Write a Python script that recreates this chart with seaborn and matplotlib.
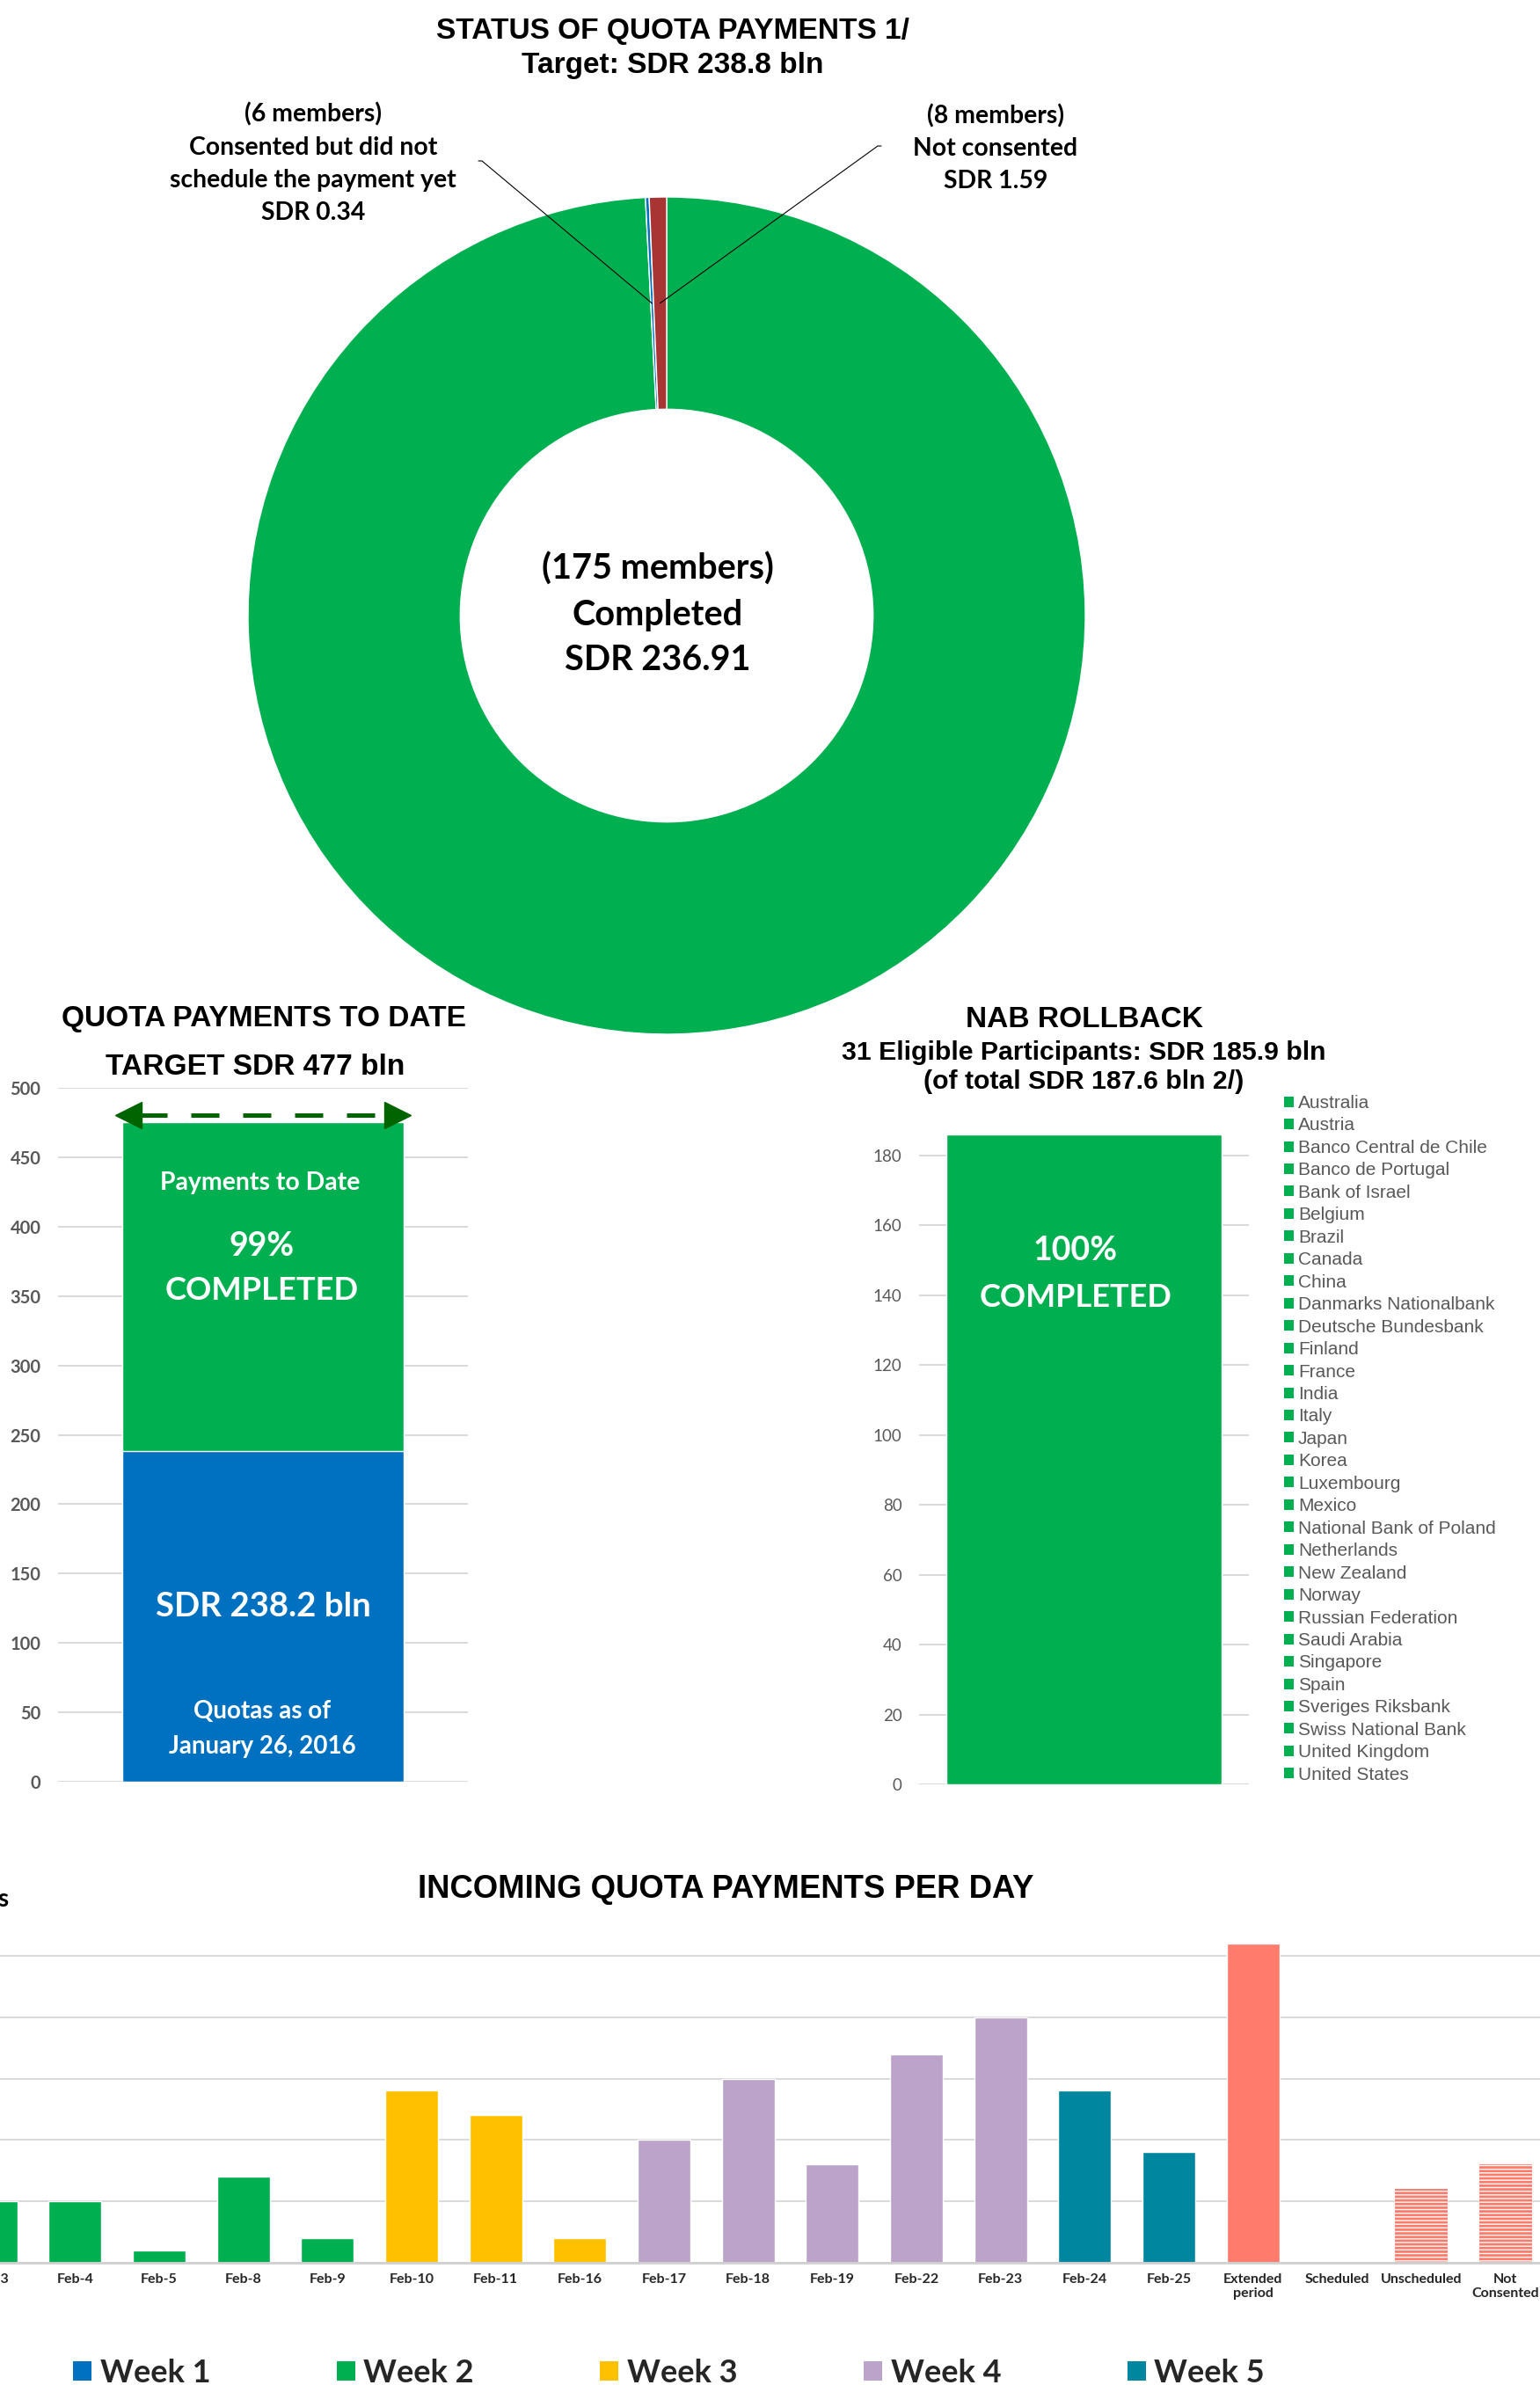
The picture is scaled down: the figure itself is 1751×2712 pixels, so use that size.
import numpy as np
import pandas as pd
import matplotlib
matplotlib.use('Agg')
import matplotlib.pyplot as plt
import seaborn as sns
from matplotlib.patches import Patch

# ---- data ----
status_labels = ['Completed', 'Consented but did not schedule the payment yet', 'Not consented']
status_sdr = [236.91, 0.34, 1.59]
status_members = [175, 6, 8]
status_colors = ['#00B050', '#0070C0', '#A93434']
status_target = 238.8

quota_parts = ['Quotas as of January 26, 2016', 'Payments to Date']
quota_sdr = [238.2, 236.9]
quota_target = 477
quota_pct = 99

nab_eligible = 185.9
nab_total = 187.6
nab_count = 31
nab_pct = 100
nab_participants = ['Australia', 'Austria', 'Banco Central de Chile', 'Banco de Portugal',
                    'Bank of Israel', 'Belgium', 'Brazil', 'Canada', 'China',
                    'Danmarks Nationalbank', 'Deutsche Bundesbank', 'Finland', 'France',
                    'India', 'Italy', 'Japan', 'Korea', 'Luxembourg', 'Mexico',
                    'National Bank of Poland', 'Netherlands', 'New Zealand', 'Norway',
                    'Russian Federation', 'Saudi Arabia', 'Singapore', 'Spain',
                    'Sveriges Riksbank', 'Swiss National Bank', 'United Kingdom', 'United States']

days = ['Feb-3', 'Feb-4', 'Feb-5', 'Feb-8', 'Feb-9', 'Feb-10', 'Feb-11', 'Feb-16',
        'Feb-17', 'Feb-18', 'Feb-19', 'Feb-22', 'Feb-23', 'Feb-24', 'Feb-25',
        'Extended\nperiod', 'Scheduled', 'Unscheduled', 'Not\nConsented']
members_per_day = [5, 5, 1, 7, 2, 14, 12, 2, 10, 15, 8, 17, 20, 14, 9, 26, 0, 6, 8]
day_group = ['Week 2'] * 5 + ['Week 3'] * 3 + ['Week 4'] * 5 + ['Week 5'] * 2 + \
            ['Extended', 'Scheduled', 'Pending', 'Pending']
weeks = ['Week 1', 'Week 2', 'Week 3', 'Week 4', 'Week 5']
week_colors = ['#0070C0', '#00B050', '#FFC000', '#BBA3C9', '#00869E']
salmon = '#FF7B6C'

GREEN = '#00B050'
BLUE = '#0070C0'
GRID = '#D9D9D9'
TICK = '#595959'

sns.set_theme(style='white')
plt.rcParams['font.family'] = ['Lato', 'DejaVu Sans']
plt.rcParams['hatch.linewidth'] = 2.0

W, H = 1751, 2712
fig = plt.figure(figsize=(W / 100, H / 100), dpi=100)


def box(l, t, r, b):
    return [l / W, 1 - b / H, (r - l) / W, (b - t) / H]


def pos(x, y):
    return (x / W, 1 - y / H)


def ftext(x, y, s, size, weight='bold', family=None, color='black', **kw):
    kw2 = dict(ha='center', va='center', fontsize=size, fontweight=weight, color=color)
    if family:
        kw2['family'] = family
    kw2.update(kw)
    fig.text(*pos(x, y), s, **kw2)


ARIAL = ['Liberation Sans', 'DejaVu Sans']

# ---------------- donut: status of quota payments ----------------
cx, cy, R = 758, 700, 476
lim = 1.25
ax_pie = fig.add_axes(box(cx - R * lim, cy - R * lim, cx + R * lim, cy + R * lim))
ring = 0.507
ax_pie.pie(status_sdr, colors=status_colors, startangle=90, counterclock=False, radius=1,
           wedgeprops=dict(width=ring, edgecolor='white', linewidth=1.0))
ax_pie.set_xlim(-lim, lim)
ax_pie.set_ylim(-lim, lim)
ax_pie.set_aspect('equal')
ax_pie.set_facecolor('none')
ax_pie.axis('off')

ftext(748, 698.5, '(%d members)\n%s\nSDR %.2f' % (status_members[0], status_labels[0], status_sdr[0]),
      28.5, linespacing=1.48)

ftext(765, 55, 'STATUS OF QUOTA PAYMENTS 1/\nTarget: SDR %.1f bln' % status_target, 24.1,
      family=ARIAL, linespacing=1.3)
ftext(356, 185.5, '(%d members)\nConsented but did not\nschedule the payment yet\nSDR %.2f'
      % (status_members[1], status_sdr[1]), 20.4, linespacing=1.53)
ftext(1132, 168.5, '(%d members)\n%s\nSDR %.2f' % (status_members[2], status_labels[2], status_sdr[2]),
      20.4, linespacing=1.52)

# leader lines from labels to the small slices
total = sum(status_sdr)
cum = np.cumsum([0] + status_sdr)
r_mid = 1 - ring / 2
for i, start, armA_ang in [(1, (544, 183), 0), (2, (1002, 166), 180)]:
    mid = np.deg2rad(90 - (cum[i] + status_sdr[i] / 2) / total * 360)
    ax_pie.annotate('', xy=(r_mid * np.cos(mid), r_mid * np.sin(mid)), xycoords='data',
                    xytext=pos(*start), textcoords='figure fraction',
                    arrowprops=dict(arrowstyle='-', color='black', lw=0.8, shrinkA=0, shrinkB=0,
                                    connectionstyle='arc,angleA=%d,angleB=0,armA=4,armB=0,rad=0' % armA_ang))

# ---------------- quota payments to date ----------------
ax_q = fig.add_axes(box(66, 1237, 532, 2026))
bar_w = 0.685
sns.barplot(x=['Quota'], y=[sum(quota_sdr)], color=GREEN, saturation=1, width=bar_w, ax=ax_q)
sns.barplot(x=['Quota'], y=[quota_sdr[0]], color=BLUE, saturation=1, width=bar_w, ax=ax_q)
ax_q.set_xlim(-0.5, 0.5)
ax_q.set_ylim(0, 500)
ax_q.set_yticks(np.arange(0, 501, 50))
ax_q.set_xticks([])
ax_q.set_xlabel('')
ax_q.set_ylabel('')
ax_q.grid(axis='y', color=GRID, linewidth=1.4)
ax_q.set_axisbelow(True)
for s in ax_q.spines.values():
    s.set_visible(False)
ax_q.tick_params(axis='y', length=0, pad=14, labelsize=14.5, labelcolor=TICK)
for lbl in ax_q.get_yticklabels():
    lbl.set_fontweight('bold')
ax_q.set_facecolor('none')

# dashed target arrow
arrow_y = quota_target + 3.5
tip = bar_w / 2 + 0.015
head = 0.06
ax_q.plot([-tip + head * 0.9, tip - head * 0.9], [arrow_y, arrow_y], color='#006400', lw=3.6,
          dashes=(6.4, 5.4), solid_capstyle='butt', dash_capstyle='butt', clip_on=False)
ax_q.plot([-tip + head / 2], [arrow_y], marker='<', markersize=21, color='#006400', clip_on=False)
ax_q.plot([tip - head / 2], [arrow_y], marker='>', markersize=21, color='#006400', clip_on=False)

ftext(300, 1158, 'QUOTA PAYMENTS TO DATE', 24.1, family=ARIAL)
ftext(290, 1213, 'TARGET SDR %d bln' % quota_target, 24.1, family=ARIAL)
ftext(296, 1345, quota_parts[1], 20.4, color='white')
ftext(298, 1417, '%d%%' % quota_pct, 27, color='white')
ftext(298, 1468, 'COMPLETED', 26.2, color='white')
ftext(299, 1827, 'SDR %.1f bln' % quota_sdr[0], 27.6, color='white')
ftext(298, 1966, 'Quotas as of\nJanuary 26, 2016', 20, color='white', linespacing=1.62)

# ---------------- NAB rollback ----------------
ax_n = fig.add_axes(box(1045, 1273.9, 1420, 2029.3))
sns.barplot(x=['NAB'], y=[nab_eligible], color=GREEN, saturation=1, width=0.835, ax=ax_n)
ax_n.set_xlim(-0.5, 0.5)
ax_n.set_ylim(0, 190)
ax_n.set_yticks(np.arange(0, 181, 20))
ax_n.set_xticks([])
ax_n.set_xlabel('')
ax_n.set_ylabel('')
ax_n.grid(axis='y', color=GRID, linewidth=1.4)
ax_n.set_axisbelow(True)
for s in ax_n.spines.values():
    s.set_visible(False)
ax_n.tick_params(axis='y', length=0, pad=14, labelsize=13.5, labelcolor=TICK)
ax_n.set_facecolor('none')

handles = [Patch(facecolor=GREEN, edgecolor='none') for _ in nab_participants]
ax_n.legend(handles, nab_participants, loc='upper left', bbox_to_anchor=pos(1460, 1245),
            bbox_transform=fig.transFigure, frameon=False, prop=dict(family=ARIAL, size=15),
            labelcolor=TICK, handlelength=0.51, handleheight=0.51, handletextpad=0.25,
            labelspacing=0.31, borderpad=0, borderaxespad=0)

ftext(1233, 1160, 'NAB ROLLBACK', 24.1, family=ARIAL)
ftext(1232, 1197, '%d Eligible Participants: SDR %.1f bln' % (nab_count, nab_eligible), 21.8, family=ARIAL)
ftext(1232, 1230, '(of total SDR %.1f bln 2/)' % nab_total, 21.8, family=ARIAL)
ftext(1223, 1422, '%d%%' % nab_pct, 27, color='white')
ftext(1223, 1475, 'COMPLETED', 26, color='white')

# ---------------- incoming quota payments per day ----------------
df_days = pd.DataFrame({'day': days, 'members': members_per_day, 'group': day_group})
group_palette = dict(zip(weeks, week_colors))
group_palette.update({'Extended': salmon, 'Scheduled': salmon, 'Pending': salmon})

ax_d = fig.add_axes(box(-58.2, 2196.4, 1759.6, 2572.5))
sns.barplot(data=df_days, x='day', y='members', hue='group', palette=group_palette, dodge=False,
            width=0.627, saturation=1, legend=False, ax=ax_d)
for p in ax_d.patches:
    idx = int(round(p.get_x() + p.get_width() / 2))
    if 0 <= idx < len(days) and day_group[idx] == 'Pending':
        p.set_facecolor('white')
        p.set_edgecolor(salmon)
        p.set_hatch('----')
        p.set_linewidth(0)
ax_d.set_xlim(-0.5, len(days) - 0.5)
ax_d.set_ylim(0, 27)
ax_d.set_yticks(np.arange(0, 26, 5))
ax_d.set_yticklabels([])
ax_d.set_xlabel('')
ax_d.set_ylabel('')
ax_d.grid(axis='y', color=GRID, linewidth=1.4)
ax_d.set_axisbelow(True)
for side in ['top', 'left', 'right']:
    ax_d.spines[side].set_visible(False)
ax_d.spines['bottom'].set_color('#D0D0D0')
ax_d.spines['bottom'].set_linewidth(2)
ax_d.tick_params(axis='x', length=0, pad=9, labelsize=11.5, labelcolor='#262626')
ax_d.tick_params(axis='y', length=0)
for lbl in ax_d.get_xticklabels():
    lbl.set_fontweight('bold')

ftext(825, 2148.5, 'INCOMING QUOTA PAYMENTS PER DAY', 26.3, family=ARIAL)
ftext(10, 2160, 'Number of members', 20, ha='right')

week_handles = [Patch(facecolor=c, edgecolor='none') for c in week_colors]
fig.legend(week_handles, weeks, loc='upper left', bbox_to_anchor=pos(83, 2682), ncol=5,
           frameon=False, prop=dict(family='Lato', weight='bold', size=26),
           handlelength=0.58, handleheight=0.55, handletextpad=0.27, columnspacing=3.97,
           borderpad=0, borderaxespad=0)

fig.savefig('out.png', dpi=100)
